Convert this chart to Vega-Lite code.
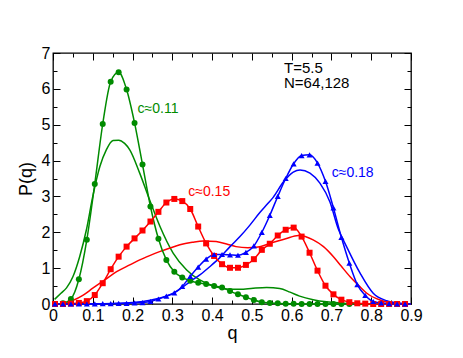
{
  "$schema": "https://vega.github.io/schema/vega-lite/v6.json",
  "width": 358,
  "height": 251,
  "autosize": "none",
  "padding": {"left": 53, "top": 53, "right": 52, "bottom": 54},
  "background": "white",
  "config": {
    "view": {"stroke": "black", "strokeWidth": 1.3}
  },
  "datasets": {
    "smooth": [
      {"q": 0.004, "P": 0.13, "s": "c011"}, {"q": 0.02, "P": 0.3, "s": "c011"}, {"q": 0.034, "P": 0.45, "s": "c011"}, {"q": 0.05, "P": 0.76, "s": "c011"}, {"q": 0.067, "P": 1.32, "s": "c011"}, {"q": 0.084, "P": 2.07, "s": "c011"}, {"q": 0.1, "P": 3.0, "s": "c011"}, {"q": 0.118, "P": 3.84, "s": "c011"}, {"q": 0.134, "P": 4.3, "s": "c011"}, {"q": 0.151, "P": 4.56, "s": "c011"}, {"q": 0.165, "P": 4.57, "s": "c011"}, {"q": 0.18, "P": 4.48, "s": "c011"}, {"q": 0.193, "P": 4.3, "s": "c011"}, {"q": 0.218, "P": 3.65, "s": "c011"}, {"q": 0.243, "P": 2.9, "s": "c011"}, {"q": 0.269, "P": 2.16, "s": "c011"}, {"q": 0.302, "P": 1.42, "s": "c011"}, {"q": 0.336, "P": 0.95, "s": "c011"}, {"q": 0.369, "P": 0.67, "s": "c011"}, {"q": 0.403, "P": 0.5, "s": "c011"}, {"q": 0.436, "P": 0.42, "s": "c011"}, {"q": 0.47, "P": 0.41, "s": "c011"}, {"q": 0.503, "P": 0.44, "s": "c011"}, {"q": 0.537, "P": 0.46, "s": "c011"}, {"q": 0.57, "P": 0.43, "s": "c011"}, {"q": 0.596, "P": 0.33, "s": "c011"}, {"q": 0.62, "P": 0.22, "s": "c011"}, {"q": 0.654, "P": 0.12, "s": "c011"}, {"q": 0.688, "P": 0.06, "s": "c011"}, {"q": 0.72, "P": 0.03, "s": "c011"}, {"q": 0.755, "P": 0.01, "s": "c011"}, {"q": 0.8, "P": 0.0, "s": "c011"}, {"q": 0.9, "P": 0.0, "s": "c011"},
      {"q": 0.0, "P": 0.0, "s": "c015"}, {"q": 0.03, "P": 0.02, "s": "c015"}, {"q": 0.05, "P": 0.1, "s": "c015"}, {"q": 0.076, "P": 0.25, "s": "c015"}, {"q": 0.1, "P": 0.44, "s": "c015"}, {"q": 0.13, "P": 0.67, "s": "c015"}, {"q": 0.16, "P": 0.9, "s": "c015"}, {"q": 0.193, "P": 1.09, "s": "c015"}, {"q": 0.218, "P": 1.23, "s": "c015"}, {"q": 0.243, "P": 1.35, "s": "c015"}, {"q": 0.268, "P": 1.46, "s": "c015"}, {"q": 0.294, "P": 1.56, "s": "c015"}, {"q": 0.319, "P": 1.65, "s": "c015"}, {"q": 0.35, "P": 1.72, "s": "c015"}, {"q": 0.378, "P": 1.76, "s": "c015"}, {"q": 0.41, "P": 1.74, "s": "c015"}, {"q": 0.44, "P": 1.66, "s": "c015"}, {"q": 0.46, "P": 1.6, "s": "c015"}, {"q": 0.49, "P": 1.57, "s": "c015"}, {"q": 0.51, "P": 1.58, "s": "c015"}, {"q": 0.554, "P": 1.72, "s": "c015"}, {"q": 0.585, "P": 1.82, "s": "c015"}, {"q": 0.617, "P": 1.91, "s": "c015"}, {"q": 0.654, "P": 1.79, "s": "c015"}, {"q": 0.68, "P": 1.6, "s": "c015"}, {"q": 0.705, "P": 1.32, "s": "c015"}, {"q": 0.725, "P": 1.05, "s": "c015"}, {"q": 0.747, "P": 0.76, "s": "c015"}, {"q": 0.77, "P": 0.5, "s": "c015"}, {"q": 0.789, "P": 0.3, "s": "c015"}, {"q": 0.822, "P": 0.11, "s": "c015"}, {"q": 0.864, "P": 0.02, "s": "c015"}, {"q": 0.9, "P": 0.0, "s": "c015"},
      {"q": 0.0, "P": 0.0, "s": "c018"}, {"q": 0.1, "P": 0.005, "s": "c018"}, {"q": 0.15, "P": 0.015, "s": "c018"}, {"q": 0.2, "P": 0.04, "s": "c018"}, {"q": 0.22, "P": 0.06, "s": "c018"}, {"q": 0.25, "P": 0.12, "s": "c018"}, {"q": 0.28, "P": 0.2, "s": "c018"}, {"q": 0.3, "P": 0.29, "s": "c018"}, {"q": 0.32, "P": 0.42, "s": "c018"}, {"q": 0.344, "P": 0.62, "s": "c018"}, {"q": 0.37, "P": 0.82, "s": "c018"}, {"q": 0.394, "P": 1.04, "s": "c018"}, {"q": 0.42, "P": 1.3, "s": "c018"}, {"q": 0.445, "P": 1.6, "s": "c018"}, {"q": 0.47, "P": 1.88, "s": "c018"}, {"q": 0.495, "P": 2.2, "s": "c018"}, {"q": 0.52, "P": 2.55, "s": "c018"}, {"q": 0.54, "P": 2.8, "s": "c018"}, {"q": 0.554, "P": 2.98, "s": "c018"}, {"q": 0.579, "P": 3.4, "s": "c018"}, {"q": 0.604, "P": 3.68, "s": "c018"}, {"q": 0.621, "P": 3.74, "s": "c018"}, {"q": 0.646, "P": 3.65, "s": "c018"}, {"q": 0.671, "P": 3.37, "s": "c018"}, {"q": 0.696, "P": 2.85, "s": "c018"}, {"q": 0.717, "P": 2.1, "s": "c018"}, {"q": 0.738, "P": 1.6, "s": "c018"}, {"q": 0.772, "P": 0.86, "s": "c018"}, {"q": 0.805, "P": 0.3, "s": "c018"}, {"q": 0.839, "P": 0.09, "s": "c018"}, {"q": 0.873, "P": 0.02, "s": "c018"}, {"q": 0.9, "P": 0.0, "s": "c018"}
    ],
    "pts": [
      {"q": 0.005, "P": 0.0, "s": "c011"}, {"q": 0.025, "P": 0.02, "s": "c011"}, {"q": 0.045, "P": 0.14, "s": "c011"}, {"q": 0.065, "P": 0.69, "s": "c011"}, {"q": 0.085, "P": 1.79, "s": "c011"}, {"q": 0.105, "P": 3.35, "s": "c011"}, {"q": 0.125, "P": 5.02, "s": "c011"}, {"q": 0.145, "P": 6.2, "s": "c011"}, {"q": 0.165, "P": 6.46, "s": "c011"}, {"q": 0.185, "P": 5.98, "s": "c011"}, {"q": 0.205, "P": 5.05, "s": "c011"}, {"q": 0.225, "P": 3.89, "s": "c011"}, {"q": 0.245, "P": 2.72, "s": "c011"}, {"q": 0.265, "P": 1.82, "s": "c011"}, {"q": 0.285, "P": 1.23, "s": "c011"}, {"q": 0.305, "P": 0.9, "s": "c011"}, {"q": 0.325, "P": 0.74, "s": "c011"}, {"q": 0.345, "P": 0.65, "s": "c011"}, {"q": 0.365, "P": 0.59, "s": "c011"}, {"q": 0.385, "P": 0.56, "s": "c011"}, {"q": 0.405, "P": 0.5, "s": "c011"}, {"q": 0.425, "P": 0.46, "s": "c011"}, {"q": 0.445, "P": 0.36, "s": "c011"}, {"q": 0.465, "P": 0.27, "s": "c011"}, {"q": 0.485, "P": 0.19, "s": "c011"}, {"q": 0.505, "P": 0.11, "s": "c011"}, {"q": 0.525, "P": 0.05, "s": "c011"}, {"q": 0.545, "P": 0.03, "s": "c011"}, {"q": 0.565, "P": 0.02, "s": "c011"}, {"q": 0.585, "P": 0.01, "s": "c011"}, {"q": 0.605, "P": 0.01, "s": "c011"}, {"q": 0.625, "P": 0.0, "s": "c011"}, {"q": 0.645, "P": 0.0, "s": "c011"}, {"q": 0.665, "P": 0.0, "s": "c011"}, {"q": 0.685, "P": 0.0, "s": "c011"}, {"q": 0.705, "P": 0.0, "s": "c011"}, {"q": 0.725, "P": 0.0, "s": "c011"}, {"q": 0.745, "P": 0.0, "s": "c011"},
      {"q": 0.005, "P": 0.0, "s": "c015"}, {"q": 0.025, "P": 0.0, "s": "c015"}, {"q": 0.045, "P": 0.01, "s": "c015"}, {"q": 0.065, "P": 0.03, "s": "c015"}, {"q": 0.085, "P": 0.08, "s": "c015"}, {"q": 0.105, "P": 0.25, "s": "c015"}, {"q": 0.125, "P": 0.58, "s": "c015"}, {"q": 0.145, "P": 0.97, "s": "c015"}, {"q": 0.165, "P": 1.32, "s": "c015"}, {"q": 0.185, "P": 1.6, "s": "c015"}, {"q": 0.205, "P": 1.83, "s": "c015"}, {"q": 0.225, "P": 2.05, "s": "c015"}, {"q": 0.245, "P": 2.3, "s": "c015"}, {"q": 0.265, "P": 2.57, "s": "c015"}, {"q": 0.285, "P": 2.83, "s": "c015"}, {"q": 0.305, "P": 2.93, "s": "c015"}, {"q": 0.325, "P": 2.87, "s": "c015"}, {"q": 0.345, "P": 2.65, "s": "c015"}, {"q": 0.365, "P": 2.16, "s": "c015"}, {"q": 0.385, "P": 1.69, "s": "c015"}, {"q": 0.405, "P": 1.34, "s": "c015"}, {"q": 0.425, "P": 1.11, "s": "c015"}, {"q": 0.445, "P": 1.01, "s": "c015"}, {"q": 0.465, "P": 1.01, "s": "c015"}, {"q": 0.485, "P": 1.09, "s": "c015"}, {"q": 0.505, "P": 1.25, "s": "c015"}, {"q": 0.525, "P": 1.51, "s": "c015"}, {"q": 0.545, "P": 1.68, "s": "c015"}, {"q": 0.565, "P": 1.91, "s": "c015"}, {"q": 0.585, "P": 2.07, "s": "c015"}, {"q": 0.605, "P": 2.13, "s": "c015"}, {"q": 0.625, "P": 1.88, "s": "c015"}, {"q": 0.645, "P": 1.43, "s": "c015"}, {"q": 0.665, "P": 0.93, "s": "c015"}, {"q": 0.685, "P": 0.51, "s": "c015"}, {"q": 0.705, "P": 0.27, "s": "c015"}, {"q": 0.725, "P": 0.12, "s": "c015"}, {"q": 0.745, "P": 0.05, "s": "c015"}, {"q": 0.765, "P": 0.02, "s": "c015"}, {"q": 0.785, "P": 0.01, "s": "c015"}, {"q": 0.805, "P": 0.0, "s": "c015"}, {"q": 0.825, "P": 0.0, "s": "c015"}, {"q": 0.845, "P": 0.0, "s": "c015"}, {"q": 0.865, "P": 0.0, "s": "c015"}, {"q": 0.885, "P": 0.0, "s": "c015"},
      {"q": 0.005, "P": 0.0, "s": "c018"}, {"q": 0.025, "P": 0.0, "s": "c018"}, {"q": 0.045, "P": 0.0, "s": "c018"}, {"q": 0.065, "P": 0.0, "s": "c018"}, {"q": 0.085, "P": 0.0, "s": "c018"}, {"q": 0.105, "P": 0.005, "s": "c018"}, {"q": 0.125, "P": 0.01, "s": "c018"}, {"q": 0.145, "P": 0.01, "s": "c018"}, {"q": 0.165, "P": 0.015, "s": "c018"}, {"q": 0.185, "P": 0.02, "s": "c018"}, {"q": 0.205, "P": 0.03, "s": "c018"}, {"q": 0.225, "P": 0.04, "s": "c018"}, {"q": 0.245, "P": 0.07, "s": "c018"}, {"q": 0.265, "P": 0.14, "s": "c018"}, {"q": 0.285, "P": 0.22, "s": "c018"}, {"q": 0.305, "P": 0.31, "s": "c018"}, {"q": 0.325, "P": 0.49, "s": "c018"}, {"q": 0.345, "P": 0.77, "s": "c018"}, {"q": 0.365, "P": 1.03, "s": "c018"}, {"q": 0.385, "P": 1.25, "s": "c018"}, {"q": 0.405, "P": 1.38, "s": "c018"}, {"q": 0.425, "P": 1.38, "s": "c018"}, {"q": 0.445, "P": 1.37, "s": "c018"}, {"q": 0.465, "P": 1.36, "s": "c018"}, {"q": 0.485, "P": 1.44, "s": "c018"}, {"q": 0.505, "P": 1.62, "s": "c018"}, {"q": 0.525, "P": 2.0, "s": "c018"}, {"q": 0.545, "P": 2.47, "s": "c018"}, {"q": 0.565, "P": 3.0, "s": "c018"}, {"q": 0.585, "P": 3.5, "s": "c018"}, {"q": 0.605, "P": 3.91, "s": "c018"}, {"q": 0.625, "P": 4.14, "s": "c018"}, {"q": 0.645, "P": 4.16, "s": "c018"}, {"q": 0.665, "P": 3.93, "s": "c018"}, {"q": 0.685, "P": 3.42, "s": "c018"}, {"q": 0.705, "P": 2.68, "s": "c018"}, {"q": 0.725, "P": 1.86, "s": "c018"}, {"q": 0.745, "P": 1.14, "s": "c018"}, {"q": 0.765, "P": 0.54, "s": "c018"}, {"q": 0.785, "P": 0.24, "s": "c018"}, {"q": 0.805, "P": 0.07, "s": "c018"}, {"q": 0.825, "P": 0.03, "s": "c018"}, {"q": 0.845, "P": 0.01, "s": "c018"}, {"q": 0.865, "P": 0.0, "s": "c018"}, {"q": 0.885, "P": 0.0, "s": "c018"}
    ],
    "labels": [
      {"q": 0.2125, "P": 5.34, "s": "c011", "t": "c≈0.11"},
      {"q": 0.34, "P": 3.0, "s": "c015", "t": "c≈0.15"},
      {"q": 0.7007, "P": 3.54, "s": "c018", "t": "c≈0.18"}
    ],
    "notes": [
      {"q": 0.5807, "P": 6.44, "t": "T=5.5"},
      {"q": 0.5807, "P": 6.03, "t": "N=64,128"}
    ]
  },
  "resolve": {"axis": {"x": "independent", "y": "independent"}},
  "layer": [
    {
      "data": {"name": "smooth"},
      "mark": {"type": "line", "strokeWidth": 1.5, "interpolate": "monotone"},
      "encoding": {
        "x": {"field": "q", "type": "quantitative", "scale": {"domain": [0, 0.9], "nice": false, "zero": false},
              "axis": {"orient": "bottom", "values": [0, 0.1, 0.2, 0.3, 0.4, 0.5, 0.6, 0.7, 0.8, 0.9], "format": "~g", "grid": false, "domain": false, "tickColor": "black", "tickWidth": 1, "tickSize": -7, "labelPadding": 10, "labelFont": "Liberation Sans", "labelFontSize": 16, "labelColor": "black", "title": "q", "titleFont": "Liberation Sans", "titleFontSize": 18, "titleFontWeight": "normal", "titleColor": "black", "titlePadding": 1, "labelFlush": false, "labelOverlap": false}},
        "y": {"field": "P", "type": "quantitative", "scale": {"domain": [0, 7], "nice": false},
              "axis": {"orient": "left", "values": [0, 1, 2, 3, 4, 5, 6, 7], "grid": false, "domain": false, "tickColor": "black", "tickWidth": 1, "tickSize": -7, "labelPadding": 10, "labelFont": "Liberation Sans", "labelFontSize": 16, "labelColor": "black", "title": "P(q)", "titleFont": "Liberation Sans", "titleFontSize": 18, "titleFontWeight": "normal", "titleColor": "black", "titlePadding": 6, "labelFlush": false, "labelOverlap": false}},
        "color": {"field": "s", "type": "nominal", "scale": {"domain": ["c011", "c015", "c018"], "range": ["#008b00", "#ff0000", "#0000ff"]}, "legend": null}
      }
    },
    {
      "data": {"name": "pts"},
      "mark": {"type": "line", "strokeWidth": 1.5, "interpolate": "monotone"},
      "encoding": {
        "x": {"field": "q", "type": "quantitative", "scale": {"domain": [0, 0.9], "nice": false, "zero": false},
              "axis": {"orient": "top", "values": [0, 0.1, 0.2, 0.3, 0.4, 0.5, 0.6, 0.7, 0.8, 0.9], "grid": false, "domain": false, "tickColor": "black", "tickWidth": 1, "tickSize": -7, "labels": false, "title": null}},
        "y": {"field": "P", "type": "quantitative", "scale": {"domain": [0, 7], "nice": false},
              "axis": {"orient": "right", "values": [0, 1, 2, 3, 4, 5, 6, 7], "grid": false, "domain": false, "tickColor": "black", "tickWidth": 1, "tickSize": -7, "labels": false, "title": null}},
        "color": {"field": "s", "type": "nominal", "scale": {"domain": ["c011", "c015", "c018"], "range": ["#008b00", "#ff0000", "#0000ff"]}, "legend": null}
      }
    },
    {
      "data": {"name": "pts"},
      "mark": {"type": "point", "filled": true, "opacity": 1, "size": 36},
      "encoding": {
        "x": {"field": "q", "type": "quantitative", "scale": {"domain": [0, 0.9], "nice": false, "zero": false},
              "axis": {"orient": "bottom", "values": [0.05, 0.15, 0.25, 0.35, 0.45, 0.55, 0.65, 0.75, 0.85], "grid": false, "domain": false, "tickColor": "black", "tickWidth": 1, "tickSize": -4, "labels": false, "title": null}},
        "y": {"field": "P", "type": "quantitative", "scale": {"domain": [0, 7], "nice": false},
              "axis": {"orient": "left", "values": [0.5, 1.5, 2.5, 3.5, 4.5, 5.5, 6.5], "grid": false, "domain": false, "tickColor": "black", "tickWidth": 1, "tickSize": -4, "labels": false, "title": null}},
        "color": {"field": "s", "type": "nominal", "scale": {"domain": ["c011", "c015", "c018"], "range": ["#008b00", "#ff0000", "#0000ff"]}, "legend": null},
        "shape": {"field": "s", "type": "nominal", "scale": {"domain": ["c011", "c015", "c018"], "range": ["circle", "square", "triangle-up"]}, "legend": null}
      }
    },
    {
      "data": {"name": "labels"},
      "mark": {"type": "text", "align": "left", "baseline": "alphabetic", "font": "Liberation Sans", "fontSize": 14},
      "encoding": {
        "x": {"field": "q", "type": "quantitative", "scale": {"domain": [0, 0.9], "nice": false, "zero": false},
              "axis": {"orient": "top", "values": [0.05, 0.15, 0.25, 0.35, 0.45, 0.55, 0.65, 0.75, 0.85], "grid": false, "domain": false, "tickColor": "black", "tickWidth": 1, "tickSize": -4, "labels": false, "title": null}},
        "y": {"field": "P", "type": "quantitative", "scale": {"domain": [0, 7], "nice": false},
              "axis": {"orient": "right", "values": [0.5, 1.5, 2.5, 3.5, 4.5, 5.5, 6.5], "grid": false, "domain": false, "tickColor": "black", "tickWidth": 1, "tickSize": -4, "labels": false, "title": null}},
        "text": {"field": "t", "type": "nominal"},
        "color": {"field": "s", "type": "nominal", "scale": {"domain": ["c011", "c015", "c018"], "range": ["#008b00", "#ff0000", "#0000ff"]}, "legend": null}
      }
    },
    {
      "data": {"name": "notes"},
      "mark": {"type": "text", "align": "left", "baseline": "alphabetic", "font": "Liberation Sans", "fontSize": 15, "color": "black"},
      "encoding": {
        "x": {"field": "q", "type": "quantitative", "scale": {"domain": [0, 0.9], "nice": false, "zero": false}, "axis": null},
        "y": {"field": "P", "type": "quantitative", "scale": {"domain": [0, 7], "nice": false}, "axis": null},
        "text": {"field": "t", "type": "nominal"}
      }
    }
  ]
}
